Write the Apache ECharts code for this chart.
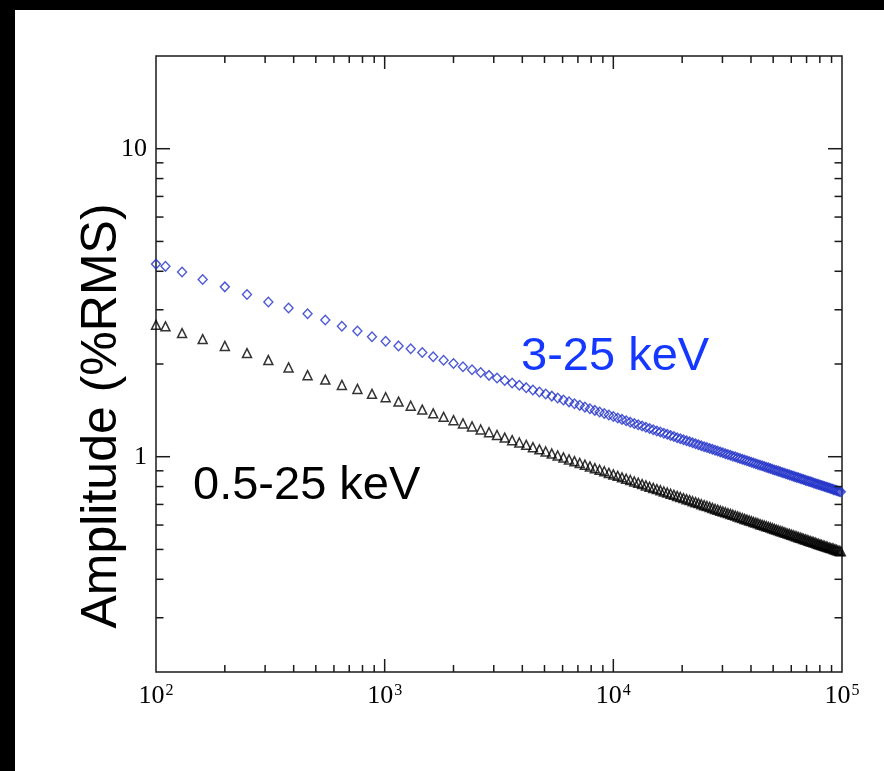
<!DOCTYPE html>
<html><head><meta charset="utf-8">
<script src="https://cdn.jsdelivr.net/npm/echarts@6/dist/echarts.min.js"></script>
<style>
html,body{margin:0;padding:0;background:#000;width:884px;height:771px;overflow:hidden;}
#chart{position:absolute;left:15px;top:10px;width:869px;height:761px;background:#fff;}
</style></head><body><div id="chart"></div>
<script>
// x positions of the points
const xValues = [100,110,130,160,200,250,310,380,460,550,
650,760,880,1010,1150,1300,1460,1630,1810,2000,
2200,2410,2630,2860,3100,3350,3610,3880,4160,4450,
4750,5060,5380,5710,6050,6400,6760,7130,7510,7900,
8300,8710,9130,9560,10000,10450,10910,11380,11860,12350,
12850,13360,13880,14410,14950,15500,16060,16630,17210,17800,
18400,19010,19630,20260,20900,21550,22210,22880,23560,24250,
24950,25660,26380,27110,27850,28600,29360,30130,30910,31700,
32500,33310,34130,34960,35800,36650,37510,38380,39260,40150,
41050,41960,42880,43810,44750,45700,46660,47630,48610,49600,
50600,51610,52630,53660,54700,55750,56810,57880,58960,60050,
61150,62260,63380,64510,65650,66800,67960,69130,70310,71500,
72700,73910,75130,76360,77600,78850,80110,81380,82660,83950,
85250,86560,87880,89210,90550,91900,93260,94630,96010,97400,
98800];

// 3-25 keV amplitude (%RMS), diamonds
const amp3to25 = [4.22,4.15,3.98,3.76,3.56,3.36,3.18,3.04,2.91,2.78,
2.65,2.56,2.45,2.37,2.29,2.24,2.18,2.110,2.056,2.006,
1.960,1.916,1.876,1.837,1.801,1.767,1.735,1.705,1.676,1.648,
1.622,1.597,1.573,1.550,1.528,1.507,1.487,1.468,1.449,1.431,
1.414,1.397,1.381,1.366,1.351,1.336,1.322,1.308,1.295,1.282,
1.270,1.258,1.246,1.235,1.223,1.212,1.202,1.192,1.182,1.172,
1.163,1.153,1.144,1.135,1.127,1.118,1.110,1.102,1.094,1.086,
1.078,1.071,1.064,1.057,1.050,1.043,1.036,1.030,1.023,1.017,
1.011,1.004,0.999,0.993,0.987,0.981,0.975,0.970,0.965,0.959,
0.954,0.949,0.944,0.939,0.934,0.929,0.925,0.920,0.915,0.911,
0.906,0.902,0.898,0.893,0.889,0.885,0.881,0.877,0.873,0.869,
0.865,0.861,0.857,0.854,0.850,0.846,0.843,0.839,0.836,0.833,
0.829,0.826,0.822,0.819,0.816,0.813,0.809,0.806,0.803,0.800,
0.797,0.794,0.791,0.788,0.785,0.782,0.780,0.777,0.774,0.771,
0.769];

// 0.5-25 keV amplitude (%RMS), triangles
const amp05to25 = [2.68,2.65,2.52,2.41,2.29,2.17,2.06,1.95,1.84,1.78,
1.71,1.66,1.60,1.560,1.510,1.464,1.422,1.383,1.347,1.314,
1.283,1.254,1.226,1.201,1.176,1.154,1.132,1.112,1.093,1.074,
1.057,1.040,1.024,1.009,0.995,0.980,0.967,0.954,0.942,0.930,
0.918,0.907,0.897,0.886,0.876,0.867,0.857,0.848,0.840,0.831,
0.823,0.815,0.807,0.799,0.792,0.785,0.778,0.771,0.765,0.758,
0.752,0.746,0.740,0.734,0.728,0.723,0.717,0.712,0.707,0.701,
0.696,0.692,0.687,0.682,0.677,0.673,0.668,0.664,0.660,0.656,
0.652,0.648,0.644,0.640,0.636,0.632,0.628,0.625,0.621,0.618,
0.614,0.611,0.608,0.604,0.601,0.598,0.595,0.592,0.589,0.586,
0.583,0.580,0.577,0.574,0.572,0.569,0.566,0.563,0.561,0.558,
0.556,0.553,0.551,0.548,0.546,0.544,0.541,0.539,0.537,0.534,
0.532,0.530,0.528,0.526,0.523,0.521,0.519,0.517,0.515,0.513,
0.511,0.509,0.507,0.505,0.504,0.502,0.500,0.498,0.496,0.494,
0.493];

const xRange = [100, 100000];
const yRange = [0.2, 20];
const xMajorTicks = [1000, 10000];
const xMinorTicks = [200,300,400,500,600,700,800,900,2000,3000,4000,5000,6000,7000,8000,9000,20000,30000,40000,50000,60000,70000,80000,90000];
const yMajorTicks = [1, 10];
const yMinorTicks = [0.3,0.4,0.5,0.6,0.7,0.8,0.9,2,3,4,5,6,7,8,9];
const yTitle = 'Amplitude (%RMS)';
const label3to25 = '3-25 keV';
const label05to25 = '0.5-25 keV';

const chart = echarts.init(document.getElementById('chart'), null, {renderer: 'canvas'});
const AX = '#1a1a1a';

function xTick(len) {
  return function (params, api) {
    const v = api.value(0);
    const b = api.coord([v, yRange[0]]);
    const t = api.coord([v, yRange[1]]);
    const st = {stroke: AX, lineWidth: 1.5};
    return {type: 'group', children: [
      {type: 'line', shape: {x1: b[0], y1: b[1], x2: b[0], y2: b[1] - len}, style: st},
      {type: 'line', shape: {x1: t[0], y1: t[1], x2: t[0], y2: t[1] + len}, style: st}
    ]};
  };
}
function yTick(len) {
  return function (params, api) {
    const v = api.value(1);
    const l = api.coord([xRange[0], v]);
    const r = api.coord([xRange[1], v]);
    const st = {stroke: AX, lineWidth: 1.5};
    return {type: 'group', children: [
      {type: 'line', shape: {x1: l[0], y1: l[1], x2: l[0] + len, y2: l[1]}, style: st},
      {type: 'line', shape: {x1: r[0], y1: r[1], x2: r[0] - len, y2: r[1]}, style: st}
    ]};
  };
}

chart.setOption({
  animation: false,
  backgroundColor: '#fff',
  grid: {left: 141, top: 46, right: 42, bottom: 99, show: true, borderColor: AX, borderWidth: 1.5, backgroundColor: 'transparent'},
  xAxis: {
    type: 'log', logBase: 10, min: xRange[0], max: xRange[1],
    axisLine: {show: false}, axisTick: {show: false}, splitLine: {show: false},
    axisLabel: {
      margin: 11, color: '#000',
      formatter: function (v) { const e = Math.round(Math.log10(v)); return '{b|10}{s|' + e + '}'; },
      rich: {
        b: {fontFamily: 'Liberation Serif', fontSize: 26, color: '#000', lineHeight: 27},
        s: {fontFamily: 'Liberation Serif', fontSize: 16, color: '#000', verticalAlign: 'top', lineHeight: 16, padding: [0, 0, 0, 1]}
      }
    }
  },
  yAxis: {
    type: 'log', logBase: 10, min: yRange[0], max: yRange[1],
    axisLine: {show: false}, axisTick: {show: false}, splitLine: {show: false},
    axisLabel: {
      margin: 9, color: '#000', fontFamily: 'Liberation Serif', fontSize: 26,
      showMinLabel: false, showMaxLabel: false,
      formatter: function (v) { return String(Math.round(v)); }
    }
  },
  graphic: [
    {type: 'text', x: 87, y: 406, rotation: Math.PI / 2,
     style: {text: yTitle, fontFamily: 'Liberation Sans', fontSize: 50, fill: '#000', align: 'center', verticalAlign: 'middle'}},
    {type: 'text', x: 506, y: 347,
     style: {text: label3to25, fontFamily: 'Liberation Sans', fontSize: 47, fill: '#1438ff', align: 'left', verticalAlign: 'middle'}},
    {type: 'text', x: 178, y: 476,
     style: {text: label05to25, fontFamily: 'Liberation Sans', fontSize: 47, fill: '#000', align: 'left', verticalAlign: 'middle'}}
  ],
  series: [
    {type: 'custom', renderItem: xTick(7), data: xMinorTicks.map(v => [v, 1]), silent: true, z: 5},
    {type: 'custom', renderItem: xTick(13), data: xMajorTicks.map(v => [v, 1]), silent: true, z: 5},
    {type: 'custom', renderItem: yTick(7.5), data: yMinorTicks.map(v => [1000, v]), silent: true, z: 5},
    {type: 'custom', renderItem: yTick(14), data: yMajorTicks.map(v => [1000, v]), silent: true, z: 5},
    {type: 'scatter', name: label05to25, data: xValues.map((x, i) => [x, amp05to25[i]]),
     symbol: 'triangle', symbolSize: [9, 9],
     itemStyle: {color: 'rgba(0,0,0,0)', borderColor: '#000', borderWidth: 1.5}},
    {type: 'scatter', name: label3to25, data: xValues.map((x, i) => [x, amp3to25[i]]),
     symbol: 'diamond', symbolSize: [9, 9.5],
     itemStyle: {color: 'rgba(0,0,0,0)', borderColor: '#2232c8', borderWidth: 1.4}}
  ]
});
</script></body></html>
